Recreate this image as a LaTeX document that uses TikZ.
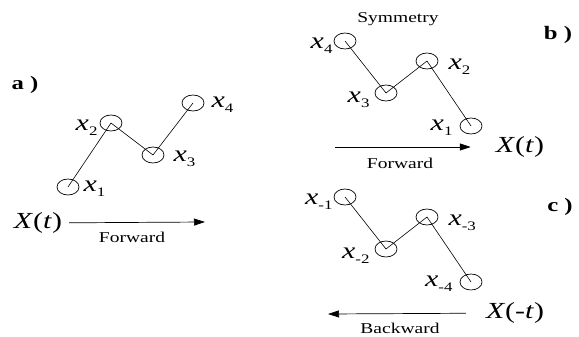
\documentclass[tikz,border=0pt]{standalone}
\usepackage{fontspec}
\setmainfont{Liberation Serif}
\usetikzlibrary{arrows.meta,positioning,shapes.geometric}
\tikzset{
  site/.style={
    ellipse,
    draw=black,
    line width=0.7pt,
    minimum width=22pt,
    minimum height=16pt,
    inner sep=0pt
  },
  bond/.style={line width=0.6pt},
  var/.style={inner sep=0pt,font=\fontsize{23}{23}\selectfont},
  caption text/.style={inner sep=0pt,font=\fontsize{15}{15}\selectfont},
  panel/.style={inner sep=0pt,font=\fontsize{19}{19}\selectfont\bfseries},
  flow/.style={-{Triangle[length=11pt,width=7pt]},line width=0.7pt}
}
\newcommand{\wide}[1]{\scalebox{1.3}[1]{#1}}
\newcommand{\subidx}[1]{\raisebox{-0.5ex}{\fontsize{13}{13}\selectfont#1}}
\newcommand{\xvar}[1]{\wide{\textit{x}\subidx{#1}}}
\newcommand{\zigzagpanel}[6]{%
  \begin{scope}[shift={(0,#2)}]
    \node[site] (#1p) at (345,41) {};
    \node[site] (#1q) at (386,93) {};
    \node[site] (#1r) at (427,61) {};
    \node[site] (#1s) at (471,126) {};
    \draw[bond] (#1p.center) -- (#1q.center) -- (#1r.center) -- (#1s.center);
    \node[var,left=1pt of #1p,yshift=-5pt] (#1p lab) {\xvar{#3}};
    \node[var,left=5pt of #1q,yshift=-7pt] (#1q lab) {\xvar{#4}};
    \node[var,right=10pt of #1r,yshift=-6pt] (#1r lab) {\xvar{#5}};
    \node[var,left=7pt of #1s,yshift=-2pt] (#1s lab) {\xvar{#6}};
  \end{scope}%
}

\begin{document}
\begin{tikzpicture}[x=1pt,y=-1pt]
  \useasboundingbox (0,0) rectangle (579,337);

  % a) forward walk
  \node[panel] (a tag) at (25,85) {\wide{a )}};
  \node[site] (a1) at (68,187) {};
  \node[site] (a2) at (111,123) {};
  \node[site] (a3) at (153,155) {};
  \node[site] (a4) at (193,103) {};
  \draw[bond] (a1.center) -- (a2.center) -- (a3.center) -- (a4.center);
  \node[var,right=4pt of a1,yshift=-2pt] (a1 lab) {\xvar{1}};
  \node[var,left=2pt of a2,yshift=-5pt] (a2 lab) {\xvar{2}};
  \node[var,right=9pt of a3,yshift=-4pt] (a3 lab) {\xvar{3}};
  \node[var,right=7pt of a4,yshift=-2pt] (a4 lab) {\xvar{4}};
  \node[var] (xa) at (38,223) {\wide{\textit{X}(\textit{t})}};
  \coordinate (fa) at (205,222);
  \draw[flow,shorten <=7pt] (xa) -- (fa);
  \node[caption text] (fwd a) at (132,237) {\wide{Forward}};

  % b) mirrored walk
  \node[panel] (b tag) at (558,35) {\wide{b )}};
  \node[caption text] (sym) at (398,19) {\wide{Symmetry}};
  \zigzagpanel{b}{0}{4}{3}{2}{1}
  \node[var] (xb) at (520,147) {\wide{\textit{X}(\textit{t})}};
  \coordinate (fb) at (335,147);
  \draw[flow,shorten >=25pt] (fb) -- (xb);
  \node[caption text] (fwd b) at (400,163) {\wide{Forward}};

  % c) backward walk
  \node[panel] (c tag) at (560,207) {\wide{c )}};
  \zigzagpanel{c}{156}{-1}{-2}{-3}{-4}
  \node[var] (xc) at (515,313) {\wide{\textit{X}(-\textit{t})}};
  \coordinate (bc) at (328,314);
  \draw[flow,shorten <=20pt] (xc) -- (bc);
  \node[caption text] (bwd c) at (400,328) {\wide{Backward}};
\end{tikzpicture}
\end{document}
